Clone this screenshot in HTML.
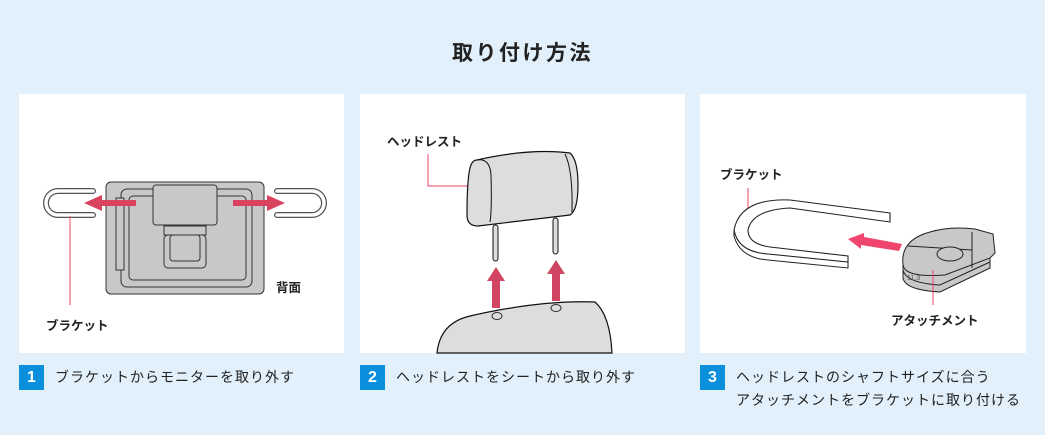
<!DOCTYPE html>
<html><head><meta charset="utf-8"><style>
body{margin:0;width:1045px;height:435px;background:#e1f0fa;position:relative;overflow:hidden;font-family:"Liberation Sans","Noto Sans CJK JP",sans-serif;color:#222}
.t{position:absolute;top:37px;left:0;width:1045px;text-align:center;font-size:21px;font-weight:bold;letter-spacing:2.5px}
.p{position:absolute;top:94px;height:259px;background:#fff}
.b{position:absolute;top:365px;width:25px;height:25px;background:#0a8fdc;color:#fff;font-weight:bold;font-size:16px;text-align:center;line-height:25px}
.c{position:absolute;top:366px;font-size:14px;line-height:23px;color:#222;letter-spacing:1px}
svg{position:absolute;left:0;top:0}
</style></head><body>
<div class="t">取り付け方法</div>
<div class="p" style="left:19px;width:325px"></div>
<div class="p" style="left:360px;width:325px"></div>
<div class="p" style="left:700px;width:326px"></div>
<div class="b" style="left:19px">1</div><div class="c" style="left:55px">ブラケットからモニターを取り外す</div>
<div class="b" style="left:360px">2</div><div class="c" style="left:396px">ヘッドレストをシートから取り外す</div>
<div class="b" style="left:700px">3</div><div class="c" style="left:736px">ヘッドレストのシャフトサイズに合う<br>アタッチメントをブラケットに取り付ける</div>
<svg width="1045" height="435" font-family="Liberation Sans,Noto Sans CJK JP,sans-serif">
<g stroke="#333" stroke-width="1" fill="#c8c8c8">
<rect x="106" y="182" width="158" height="112" rx="5"/>
<rect x="121" y="189" width="131" height="98" rx="6" fill="none"/>
<rect x="129" y="196" width="117" height="84" rx="4" fill="none"/>
<rect x="116" y="198" width="8" height="72" fill="#c8c8c8"/>
<rect x="153" y="185" width="64" height="40" rx="3"/>
<rect x="164" y="226" width="42" height="9"/>
<rect x="164" y="235" width="42" height="33" rx="4" fill="none"/>
<rect x="170" y="235" width="30" height="26" rx="3" fill="none"/>
</g>
<g fill="none" stroke="#555" stroke-width="6" stroke-linecap="round"><path d="M93 191 H58 a12 12 0 0 0 0 24 H93"/><path d="M277 191 H312 a12 12 0 0 1 0 24 H277"/></g>
<g fill="none" stroke="#fff" stroke-width="3.5" stroke-linecap="round"><path d="M93 191 H58 a12 12 0 0 0 0 24 H93"/><path d="M277 191 H312 a12 12 0 0 1 0 24 H277"/></g>
<g fill="#d9435f"><path d="M136 200 h-34 v-5 l-18 8 18 8 v-5 h34z"/><path d="M233 200 h34 v-5 l18 8 -18 8 v-5 h-34z"/></g>
<line x1="70" y1="216" x2="70" y2="305" stroke="#e8456a"/>
<text x="276" y="292" font-size="12.5" font-weight="bold" fill="#222">背面</text>
<text x="46" y="330" font-size="12.5" font-weight="bold" fill="#222">ブラケット</text>

<text x="387" y="146" font-size="12.5" font-weight="bold" fill="#222">ヘッドレスト</text>
<polyline points="428,154 428,186 482,186" fill="none" stroke="#e8456a"/>
<path d="M437 353 Q440 323 470 316 Q540 300 595 302 Q610 315 612 353Z" fill="#ddd" stroke="#111" stroke-width="1.2"/>
<ellipse cx="497" cy="316" rx="5" ry="3.5" fill="none" stroke="#333"/><ellipse cx="556" cy="308" rx="5" ry="3.5" fill="none" stroke="#333"/>
<rect x="493" y="225" width="5" height="36" rx="2.5" fill="#ddd" stroke="#111"/>
<rect x="553" y="218" width="5" height="36" rx="2.5" fill="#ddd" stroke="#111"/>
<path d="M477 160 Q530 148 570 153 Q578 160 578 185 Q578 210 570 215 L478 226 Q467 226 467 215 Q467 180 470 168 Q472 160 477 160Z" fill="#ddd" stroke="#111" stroke-width="1.2"/>
<path d="M477 160 Q490 158 491 175 Q492 210 490 222" fill="none" stroke="#111"/>
<path d="M565 154 Q573 170 572 212" fill="none" stroke="#111"/>
<g fill="#cf4562"><path d="M492 308 v-27 h-5 l9 -14 9 14 h-5 v27z"/><path d="M552 301 v-27 h-5 l9 -14 9 14 h-5 v27z"/></g>

<text x="720" y="179" font-size="12.5" font-weight="bold" fill="#222">ブラケット</text>
<line x1="748" y1="188" x2="748" y2="213" stroke="#e8456a"/>
<path d="M890 213 L790 200 Q740 198 734 230 Q738 252 768 254 L848 262 L848 256 L770 247 Q748 244 748 230 Q752 210 790 208 L890 222Z" fill="#fff" stroke="#222" stroke-width="1.1"/>
<path d="M734 230 v6 Q740 258 768 260 L848 268 v-6" fill="none" stroke="#222"/>
<path d="M890 213 v9" stroke="#222"/>
<path d="M902 244 l-38 -7 v-4 l-16 6 13 10 v-4 l38 6z" fill="#f0466e"/>
<path d="M903 265 v13 Q905 290 940 292 L990 268 V255" fill="#c8c8c8" stroke="#222"/>
<path d="M903 270 Q906 283 940 285 L990 262" fill="none" stroke="#222"/>
<path d="M903 265 Q900 240 930 232 Q950 226 975 229 L993 234 L995 253 L990 258 L945 275 Q905 278 903 265Z" fill="#c8c8c8" stroke="#222"/>
<line x1="908" y1="246" x2="972" y2="250" stroke="#222"/>
<line x1="972" y1="232" x2="972" y2="268" stroke="#222"/>
<ellipse cx="950" cy="254" rx="13" ry="7" fill="#c8c8c8" stroke="#222"/>
<text x="907" y="280" font-size="7" fill="#555">11.3</text>
<line x1="933" y1="270" x2="933" y2="305" stroke="#e8456a"/>
<text x="891" y="325" font-size="12.5" font-weight="bold" fill="#222">アタッチメント</text>
</svg>
</body></html>
